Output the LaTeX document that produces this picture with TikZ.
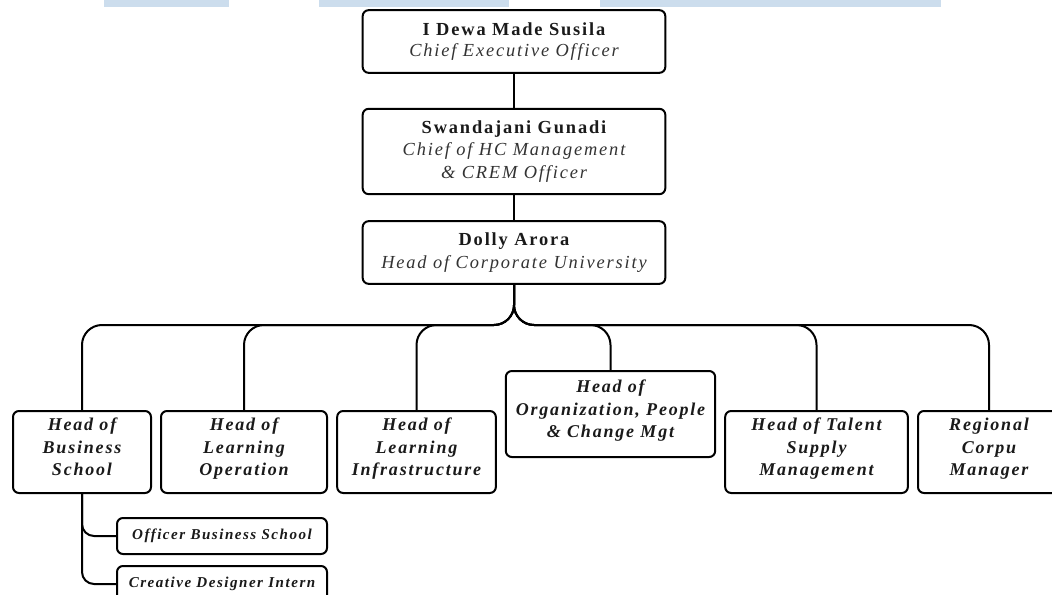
\documentclass[tikz,border=0pt]{standalone}
\usepackage{fontspec}
\setmainfont{Liberation Serif}[LetterSpace=10]
\usetikzlibrary{calc}
\definecolor{bar}{HTML}{CCDDED}
\definecolor{ink}{HTML}{1A1A1A}
\definecolor{ink2}{HTML}{333333}
\tikzset{
  box/.style={draw=black, line width=1.5pt, rounded corners=4.5pt, fill=white, align=center, inner sep=0pt, text=ink},
  top/.style={box, minimum width=227pt, font=\fontsize{13.8}{17}\selectfont},
  low/.style={box, minimum height=61.5pt, font=\fontsize{13.5}{17}\selectfont\bfseries\itshape},
  sub/.style={box, minimum width=157.5pt, minimum height=27pt, font=\fontsize{11.3}{13}\selectfont\bfseries\itshape},
  link/.style={draw=black, line width=1.5pt},
}
\newcommand{\nm}[1]{{\bfseries #1}}
\newcommand{\rl}[1]{{\itshape\color{ink2}#1}}
\newcommand{\up}[1]{\raisebox{2.5pt}[\height][\depth]{\begin{tabular}{@{}c@{}}#1\end{tabular}}}
\begin{document}
\begin{tikzpicture}[x=0.75pt, y=-0.75pt]
\useasboundingbox (0,0) rectangle (1052,595);
\clip (0,0) rectangle (1052,595);
% top bars
\fill[bar] (104,0) rectangle (229,7);
\fill[bar] (319,0) rectangle (509,7);
\fill[bar] (600,0) rectangle (941,7);
% top chain
\node[top, minimum height=47pt] (ceo) at (514,41.5) {\nm{I Dewa Made Susila}\\[-1pt]\rl{Chief Executive Officer}};
\node[top, minimum height=64pt] (hc) at (514,151.5) {\nm{Swandajani Gunadi}\\\rl{Chief of HC Management}\\\rl{\& CREM Officer}};
\node[top, minimum height=47pt] (cu) at (514,252.5) {\nm{Dolly Arora}\\\rl{Head of Corporate University}};
% second level
\node[low, minimum width=103.5pt] (bs) at (82,452) {\up{Head of\\Business\\School}};
\node[low, minimum width=124.5pt] (lo) at (244,452) {\up{Head of\\Learning\\Operation}};
\node[low, minimum width=119pt] (li) at (416.5,452) {\up{Head of\\Learning\\Infrastructure}};
\node[low, minimum width=157pt, minimum height=64.5pt] (op) at (610.5,414) {\up{Head of\\Organization, People\\\& Change Mgt}};
\node[low, minimum width=137pt] (ts) at (816.5,452) {\up{Head of Talent\\Supply\\Management}};
\node[low, minimum width=106.5pt] (rc) at (989,452) {\up{Regional\\Corpu\\Manager}};
% third level
\node[sub] (obs) at (222,536) {Officer Business School};
\node[sub] (cdi) at (222,584) {Creative Designer Intern};
% connectors
\coordinate (busY) at (0,325);
\draw[link] (ceo.south) -- (hc.north);
\draw[link] (hc.south) -- (cu.north);
\foreach \c in {bs,lo,li,op,ts,rc}{
  \draw[link, rounded corners=15pt] (cu.south) -- (cu.south |- busY) -| (\c.north);
}
\draw[link, rounded corners=9pt] (bs.south) |- (obs.west);
\draw[link, rounded corners=9pt] (bs.south) |- (cdi.west);
\end{tikzpicture}
\end{document}
